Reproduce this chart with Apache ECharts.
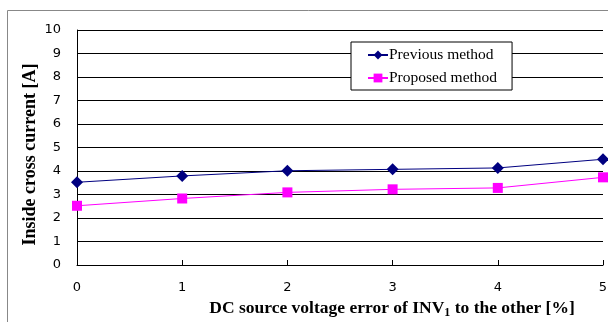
<!DOCTYPE html>
<html>
<head>
<meta charset="utf-8">
<script src="https://cdn.jsdelivr.net/npm/echarts@6/dist/echarts.min.js"></script>
<style>
  html, body { margin: 0; padding: 0; background: #fff; }
  #chart { width: 608px; height: 322px; }
</style>
</head>
<body>
<div id="chart"></div>
<script>
var xValues = [0, 1, 2, 3, 4, 5];
var previousMethod = [3.52, 3.79, 4.01, 4.07, 4.13, 4.5];
var proposedMethod = [2.52, 2.83, 3.09, 3.22, 3.28, 3.73];

function pairs(ys) {
  return xValues.map(function (x, i) { return [x, ys[i]]; });
}

var chart = echarts.init(document.getElementById('chart'));

var option = {
  backgroundColor: '#ffffff',
  animation: false,
  graphic: [{
    type: 'rect',
    shape: { x: 7.5, y: 10.5, width: 620, height: 330 },
    style: { fill: 'none', stroke: '#888', lineWidth: 1 },
    silent: true
  }],
  grid: { left: 77, right: 5, top: 30, bottom: 57, outerBoundsMode: 'none' },
  legend: {
    left: 351,
    top: 42,
    orient: 'vertical',
    padding: [5, 15, 4, 16],
    itemGap: 7,
    itemWidth: 20,
    itemHeight: 11,
    backgroundColor: '#fff',
    borderColor: '#000',
    borderWidth: 1,
    textStyle: { fontFamily: 'Liberation Serif', fontSize: 15.5, color: '#000', padding: [0, 0, 0, -4] },
    data: ['Previous method', 'Proposed method']
  },
  xAxis: {
    type: 'value',
    min: 0,
    max: 5,
    interval: 1,
    name: '{b|DC source voltage error of INV}{s|1}{b| to the other [%]}',
    nameLocation: 'middle',
    nameGap: 33,
    nameMoveOverlap: false,
    nameTextStyle: {
      padding: [0, 0, 0, 104],
      rich: {
        b: { fontFamily: 'Liberation Serif', fontWeight: 'bold', fontSize: 17.5, color: '#000' },
        s: { fontFamily: 'Liberation Serif', fontWeight: 'bold', fontSize: 12, color: '#000', verticalAlign: 'bottom', padding: [9, 0, 0, 0] }
      }
    },
    axisLine: { lineStyle: { color: '#000', width: 1 } },
    axisTick: { inside: true, length: 5, lineStyle: { color: '#000' } },
    axisLabel: { fontFamily: 'DejaVu Sans', fontSize: 13, color: '#000', margin: 16 },
    splitLine: { show: false }
  },
  yAxis: {
    type: 'value',
    min: 0,
    max: 10,
    interval: 1,
    name: 'Inside cross current [A]',
    nameLocation: 'middle',
    nameGap: 38,
    nameMoveOverlap: false,
    nameTextStyle: { fontFamily: 'Liberation Serif', fontWeight: 'bold', fontSize: 18, color: '#000', padding: [0, 14, 0, 0] },
    axisLine: { show: true, lineStyle: { color: '#000', width: 1 } },
    axisTick: { show: false },
    axisLabel: { fontFamily: 'DejaVu Sans', fontSize: 13, color: '#000', margin: 16 },
    splitLine: { lineStyle: { color: '#000', width: 1 } }
  },
  series: [{
    name: 'Previous method',
    type: 'line',
    data: pairs(previousMethod),
    symbol: 'diamond',
    symbolSize: 12,
    itemStyle: { color: '#000080' },
    lineStyle: { color: '#000080', width: 1 }
  }, {
    name: 'Proposed method',
    type: 'line',
    data: pairs(proposedMethod),
    symbol: 'rect',
    symbolSize: 10,
    itemStyle: { color: '#ff00ff' },
    lineStyle: { color: '#ff00ff', width: 1 }
  }]
};

chart.setOption(option);
</script>
</body>
</html>
